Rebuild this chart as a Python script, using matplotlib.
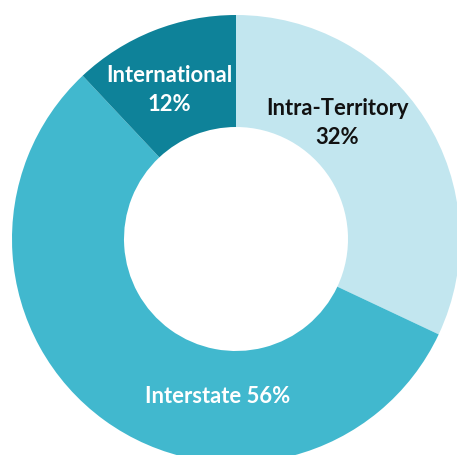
import matplotlib.pyplot as plt

# data
categories = ['Intra-Territory', 'Interstate', 'International']
shares = [32, 56, 12]
colors = ['#C2E6EF', '#41B8CE', '#0E8299']

W, H = 457, 456

fig = plt.figure(figsize=(W / 100, H / 100), dpi=100)
ax = fig.add_axes([0, 0, 1, 1])

# pie center / radius in pixel units (y up)
cx, cy, r = 236, H - 240, 224
ax.pie(shares, colors=colors, startangle=90, counterclock=False,
       center=(cx, cy), radius=r,
       wedgeprops=dict(width=r * 0.5, linewidth=0))

ax.set_xlim(0, W)
ax.set_ylim(0, H)
ax.set_aspect('auto')
ax.axis('off')

font = dict(family='Lato', weight='bold', fontsize=15.8, ha='center', va='center',
            linespacing=1.42)

ax.text(169, H - 90, f'{categories[2]}\n{shares[2]}%', color='white', **font)
ax.text(337, H - 123, f'{categories[0]}\n{shares[0]}%', color='#111111', **font)
ax.text(218, H - 397, f'{categories[1]} {shares[1]}%', color='white', **font)

fig.savefig('out.png', dpi=100)
